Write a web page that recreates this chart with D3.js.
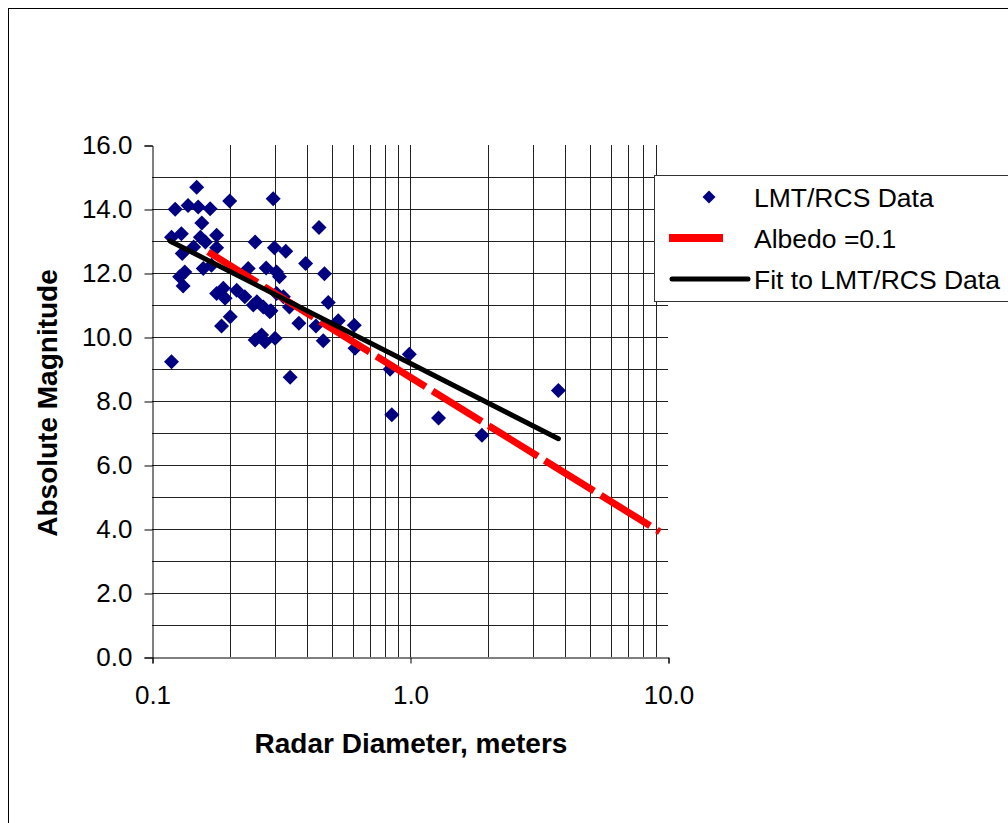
<!DOCTYPE html>
<html>
<head>
<meta charset="utf-8">
<script src="https://cdn.jsdelivr.net/npm/d3@7"></script>
<style>
  body { margin: 0; background: #fff; }
  svg { display: block; font-family: "Liberation Sans", Arial, sans-serif; }
</style>
</head>
<body>
<svg id="chart"></svg>
<script>
// LMT/RCS data: radar diameter (m) and absolute magnitude
var diamD = [0.149, 0.200, 0.123, 0.138, 0.151, 0.168, 0.156, 0.119, 0.130, 0.154,
             0.178, 0.251, 0.131, 0.178, 0.161, 0.145, 0.158, 0.170, 0.134, 0.128,
             0.132, 0.236, 0.295, 0.444, 0.298, 0.330, 0.394, 0.466, 0.277, 0.304,
             0.312, 0.482, 0.229, 0.247, 0.270, 0.289, 0.323, 0.341, 0.371, 0.432,
             0.461, 0.527, 0.608, 0.612, 0.251, 0.266, 0.274, 0.300, 0.343, 0.837,
             0.994, 0.850, 3.76, 1.29, 1.90, 0.119, 0.201, 0.186, 0.178, 0.189,
             0.192, 0.213, 0.255, 0.304, 0.286];
var diamH = [14.68, 14.25, 13.99, 14.11, 14.06, 14.01, 13.56, 13.12, 13.23, 13.12,
             13.18, 12.97, 12.61, 12.79, 12.97, 12.81, 12.14, 12.24, 12.03, 11.88,
             11.59, 12.14, 14.32, 13.42, 12.79, 12.68, 12.30, 11.98, 12.16, 12.03,
             11.88, 11.08, 11.26, 11.00, 10.94, 10.82, 11.26, 10.94, 10.43, 10.34,
             9.88, 10.51, 10.37, 9.65, 9.91, 10.06, 9.85, 9.96, 8.74, 8.99,
             9.46, 7.57, 8.33, 7.47, 6.93, 9.23, 10.63, 10.34, 11.36, 11.52,
             11.21, 11.46, 11.10, 11.36, 10.79];

// Albedo = 0.1 curve
var albedoD = [0.165, 9.3];
var albedoH = [12.66, 3.91];

// fit to LMT/RCS data
var fitD = [0.1174, 3.76];
var fitH = [13.0, 6.82];

var yTicks = [0, 2, 4, 6, 8, 10, 12, 14, 16];
var xTicks = [0.1, 1, 10];

var width = 1008, height = 823;
var plotLeft = 152, plotRight = 668, plotTop = 145, plotBottom = 657;

var svg = d3.select('#chart')
  .attr('width', width)
  .attr('height', height);

// chart frame
svg.append('rect')
  .attr('x', 8.5).attr('y', 8.5)
  .attr('width', 1100).attr('height', 900)
  .attr('fill', '#fff')
  .attr('stroke', '#000');

var x = d3.scaleLog().domain([0.1, 10]).range([plotLeft, plotRight]);
var y = d3.scaleLinear().domain([0, 16]).range([plotBottom, plotTop]);

// grid
var xMinor = [];
[0.1, 1].forEach(function (dec) {
  for (var k = 2; k <= 9; k++) xMinor.push(dec * k);
});
xMinor.push(1);

svg.append('g')
  .selectAll('line')
  .data(xMinor)
  .enter()
  .append('line')
  .attr('x1', d => Math.round(x(d)) + 0.5)
  .attr('x2', d => Math.round(x(d)) + 0.5)
  .attr('y1', plotTop)
  .attr('y2', plotBottom)
  .attr('stroke', '#222')
  .attr('stroke-width', 1);

svg.append('g')
  .selectAll('line')
  .data(d3.range(1, 16))
  .enter()
  .append('line')
  .attr('x1', plotLeft)
  .attr('x2', plotRight)
  .attr('y1', d => Math.round(y(d)) + 0.5)
  .attr('y2', d => Math.round(y(d)) + 0.5)
  .attr('stroke', '#222')
  .attr('stroke-width', 1);

// axes
var yAxis = d3.axisLeft(y)
  .tickValues(yTicks)
  .tickSize(8)
  .tickPadding(12)
  .tickFormat(d3.format('.1f'));

var yg = svg.append('g')
  .attr('transform', 'translate(' + (plotLeft + 0.5) + ',0.5)')
  .call(yAxis);

var xAxis = d3.axisBottom(x)
  .tickValues(xTicks)
  .tickSize(6)
  .tickPadding(22)
  .tickFormat(d3.format('.1f'));

var xg = svg.append('g')
  .attr('transform', 'translate(0.5,' + (plotBottom + 0.5) + ')')
  .call(xAxis);

[yg, xg].forEach(function (g) {
  g.select('.domain').attr('stroke', '#000');
  g.selectAll('.tick line').attr('stroke', '#000');
  g.selectAll('.tick text')
    .attr('fill', '#000')
    .style('font-size', '26px')
    .style('font-family', '"Liberation Sans", Arial, sans-serif');
});

// markers
var diamond = 'M0,-7.5L7.5,0L0,7.5L-7.5,0Z';
svg.append('g')
  .selectAll('path')
  .data(diamD.map((d, i) => [d, diamH[i]]))
  .enter()
  .append('path')
  .attr('d', diamond)
  .attr('fill', '#000080')
  .attr('transform', d => 'translate(' + x(d[0]) + ',' + y(d[1]) + ')');

var line = d3.line()
  .x(d => x(d[0]))
  .y(d => y(d[1]));

svg.append('path')
  .datum(albedoD.map((d, i) => [d, albedoH[i]]))
  .attr('d', line)
  .attr('fill', 'none')
  .attr('stroke', '#ff0000')
  .attr('stroke-width', 7)
  .attr('stroke-dasharray', '58,8');

svg.append('path')
  .datum(fitD.map((d, i) => [d, fitH[i]]))
  .attr('d', line)
  .attr('fill', 'none')
  .attr('stroke', '#000')
  .attr('stroke-width', 5)
  .attr('stroke-linecap', 'round');

// axis titles
svg.append('text')
  .attr('x', 411)
  .attr('y', 753)
  .attr('text-anchor', 'middle')
  .style('font-size', '28px')
  .style('font-weight', 'bold')
  .text('Radar Diameter, meters');

svg.append('text')
  .attr('transform', 'translate(57,403) rotate(-90)')
  .attr('text-anchor', 'middle')
  .style('font-size', '28px')
  .style('font-weight', 'bold')
  .text('Absolute Magnitude');

// legend
var legend = svg.append('g');
legend.append('rect')
  .attr('x', 654.5).attr('y', 175.5)
  .attr('width', 400).attr('height', 126)
  .attr('fill', '#fff')
  .attr('stroke', '#333');

var legendItems = ['LMT/RCS Data', 'Albedo =0.1', 'Fit to LMT/RCS Data'];
legend.selectAll('text')
  .data(legendItems)
  .enter()
  .append('text')
  .attr('x', 754)
  .attr('y', (d, i) => 197 + i * 41)
  .attr('dy', '0.36em')
  .style('font-size', '26.5px')
  .text(d => d);

legend.append('path')
  .attr('d', 'M0,-6.5L6.5,0L0,6.5L-6.5,0Z')
  .attr('fill', '#000080')
  .attr('transform', 'translate(709,197)');

legend.append('line')
  .attr('x1', 669).attr('x2', 723)
  .attr('y1', 238).attr('y2', 238)
  .attr('stroke', '#ff0000')
  .attr('stroke-width', 8);

legend.append('line')
  .attr('x1', 672).attr('x2', 748)
  .attr('y1', 279).attr('y2', 279)
  .attr('stroke', '#000')
  .attr('stroke-width', 5)
  .attr('stroke-linecap', 'round');
</script>
</body>
</html>
